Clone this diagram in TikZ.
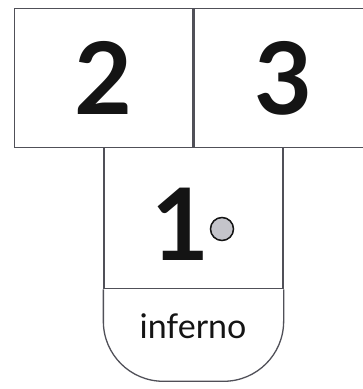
\documentclass[tikz,border=0pt]{standalone}
\usepackage{fontspec}
\setmainfont{Lato}
\usetikzlibrary{positioning}
\definecolor{pencil}{RGB}{80,80,88}
\definecolor{ink}{RGB}{20,20,20}
\definecolor{dotgray}{RGB}{196,196,202}

\begin{document}
\begin{tikzpicture}[
  x=1pt, y=-1pt,
  cell/.style={
    draw=pencil, line width=1.3pt, inner sep=0pt,
    minimum width=178pt, minimum height=139pt},
  digit/.style={font=\fontsize{100}{100}\selectfont\bfseries, text=ink},
  word/.style={font=\fontsize{34}{34}\selectfont, text=ink},
  dot/.style={circle, draw=ink, line width=1.5pt, fill=dotgray,
    minimum size=23pt, inner sep=0pt}
]
\useasboundingbox (0,0) rectangle (363,389);
\clip (0,0) rectangle (363,389);

%% Squares (top row, then the first one)
\node[cell, anchor=north west] (two) at (14,8) {};
\node[cell, anchor=north west, minimum width=180pt] (three) at (two.north east) {};
\node[cell, anchor=north, minimum width=179pt, minimum height=141pt] (one) at (193.5,147) {};

%% Rounded bottom
\draw[draw=pencil, line width=1.3pt, rounded corners=60pt]
  (one.south west) -- ++(0,92) -| (one.south east);

%% Labels
\node[digit] (lbltwo) at (two) {2};
\node[digit] (lblthree) at (three) {3};
\node[digit] (lblone) at (180,224) {1};
\node[dot] (ordinal) at (222,229) {};
\node[word] (inferno) at (193,326) {inferno};

\end{tikzpicture}
\end{document}
